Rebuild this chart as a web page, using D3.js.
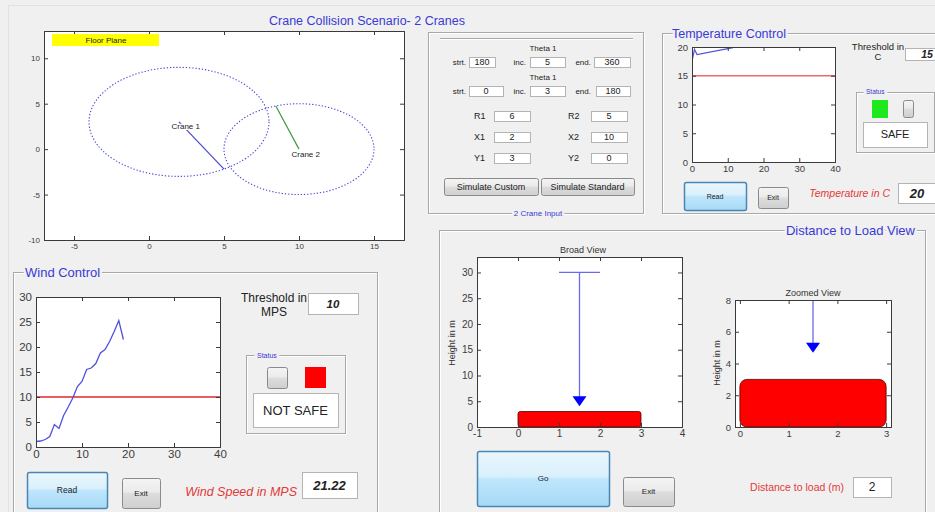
<!DOCTYPE html>
<html>
<head>
<meta charset="utf-8">
<script src="https://cdn.jsdelivr.net/npm/d3@7"></script>
<style>
  body { margin: 0; background: #f0f0f0; }
  svg { display: block; font-family: "Liberation Sans", Arial, sans-serif; }
</style>
</head>
<body>
<div id="chart"></div>
<script>
// ---- floor plane ----
var floorXDomain = [-7, 17], floorYDomain = [-10, 13];
var floorXTicks = [-5, 0, 5, 10, 15], floorYTicks = [-10, -5, 0, 5, 10];
var craneNames = ["Crane 1", "Crane 2"];
var craneX = [2, 10], craneY = [3, 0], craneR = [6, 5];
var craneArmDeg = [300, 108];
var craneArmColor = ["#4848d0", "#3f9a3f"];

// ---- 2 crane input values ----
var thetaRowA = ["180", "5", "360"];
var thetaRowB = ["0", "3", "180"];
var craneInputLeft = [["R1", "6"], ["X1", "2"], ["Y1", "3"]];
var craneInputRight = [["R2", "5"], ["X2", "10"], ["Y2", "0"]];

// ---- wind ----
var windTime = [0, 1, 2, 3, 4, 5, 6, 7, 8, 9, 10, 11, 12, 13, 14, 15, 16, 17, 18, 19];
var windSpeed = [1.1, 1.2, 1.5, 2.1, 4.5, 3.7, 6.3, 8.0, 9.8, 12.1, 13.1, 15.5, 15.8, 16.7, 18.8, 19.5, 21.1, 23.1, 25.3, 21.5];
var windThreshold = 10, windReading = "21.22";
var windXTicks = [0, 10, 20, 30, 40], windYTicks = [0, 5, 10, 15, 20, 25, 30];

// ---- temperature ----
var tempTime = [0.1, 0.7, 1.4, 11.5];
var tempValue = [17.8, 19.6, 18.7, 19.9];
var tempThreshold = 15, tempReading = "20";
var tempXTicks = [0, 10, 20, 30, 40], tempYTicks = [0, 5, 10, 15, 20];

// ---- distance to load ----
var loadX = [0, 3], loadHeight = 3;
var hookX = 1.5, hookBarX = [1, 2], hookTop = 30, hookHeight = 5;
var distanceReading = "2";
var broadXTicks = [-1, 0, 1, 2, 3, 4], broadYTicks = [0, 5, 10, 15, 20, 25, 30];
var zoomXTicks = [0, 1, 2, 3], zoomYTicks = [0, 2, 4, 6, 8];

var W = 935, H = 512;
var blueText = "#3a3ad6", redText = "#e23a3a";

var svg = d3.select("#chart").append("svg")
    .attr("width", W).attr("height", H);

var defs = svg.append("defs");
function grad(id, stops) {
    var g = defs.append("linearGradient").attr("id", id)
        .attr("x1", 0).attr("y1", 0).attr("x2", 0).attr("y2", 1);
    stops.forEach(function (s) {
        g.append("stop").attr("offset", s[0]).attr("stop-color", s[1]);
    });
}
grad("blueBtn", [[0, "#eaf6fd"], [0.45, "#d9f0fc"], [0.5, "#bee6fd"], [1, "#a7d9f5"]]);
grad("grayBtn", [[0, "#f4f4f4"], [0.45, "#ebebeb"], [0.5, "#dddddd"], [1, "#cfcfcf"]]);

svg.append("rect").attr("width", W).attr("height", H).attr("fill", "#f0f0f0");
svg.append("rect").attr("x", 8.5).attr("y", 5.5).attr("width", 940).attr("height", 520)
    .attr("fill", "none").attr("stroke", "#e2e2e2");

function label(x, y, txt, size, color, anchor, extra) {
    var t = svg.append("text").attr("x", x).attr("y", y)
        .attr("font-size", size).attr("fill", color || "#222")
        .attr("text-anchor", anchor || "start").text(txt);
    if (extra) { for (var k in extra) t.attr(k, extra[k]); }
    return t;
}

function panel(x, y, w, h, title, tx, anchor, size) {
    svg.append("rect").attr("x", x + 1.5).attr("y", y + 1.5).attr("width", w).attr("height", h)
        .attr("fill", "none").attr("stroke", "#ffffff");
    svg.append("rect").attr("x", x + 0.5).attr("y", y + 0.5).attr("width", w).attr("height", h)
        .attr("fill", "none").attr("stroke", "#a8a8a8");
    if (title) {
        label(tx, y + size * 0.36, title, size, blueText, anchor)
            .attr("stroke", "#f0f0f0").attr("stroke-width", 5)
            .attr("paint-order", "stroke");
    }
}

function editBox(x, y, w, h, txt, size, style) {
    svg.append("rect").attr("x", x + 0.5).attr("y", y + 0.5).attr("width", w).attr("height", h)
        .attr("fill", "#fff").attr("stroke", "#b4b4b4");
    var t = label(x + w / 2, y + h / 2 + size * 0.36, txt, size, "#222", "middle");
    if (style === "bi") t.attr("font-weight", "bold").attr("font-style", "italic");
    return t;
}

function button(x, y, w, h, txt, kind, size) {
    svg.append("rect").attr("x", x + 0.5).attr("y", y + 0.5).attr("width", w).attr("height", h)
        .attr("rx", 2)
        .attr("fill", kind === "blue" ? "url(#blueBtn)" : "url(#grayBtn)")
        .attr("stroke", kind === "blue" ? "#4a86b4" : "#8a8a8a")
        .attr("stroke-width", kind === "blue" ? 1.5 : 1);
    if (txt) label(x + w / 2, y + h / 2 + size * 0.36, txt, size, "#222", "middle");
}

// matlab style labels: plain hyphen minus, no trailing zeros
function plain(d) { return String(d); }

function makeAxes(x0, y0, x1, y1, xDom, yDom, xTicks, yTicks, fs, id) {
    var x = d3.scaleLinear().domain(xDom).range([x0, x1]);
    var y = d3.scaleLinear().domain(yDom).range([y1, y0]);
    var g = svg.append("g");
    g.append("rect").attr("x", x0).attr("y", y0).attr("width", x1 - x0).attr("height", y1 - y0)
        .attr("fill", "#fff");
    defs.append("clipPath").attr("id", id).append("rect")
        .attr("x", x0).attr("y", y0).attr("width", x1 - x0).attr("height", y1 - y0);
    var plot = g.append("g").attr("clip-path", "url(#" + id + ")");
    var ax = g.append("g");
    ax.append("g").attr("transform", "translate(0," + y1 + ")")
        .call(d3.axisBottom(x).tickValues(xTicks).tickSize(-4).tickPadding(3).tickFormat(plain));
    ax.append("g").attr("transform", "translate(0," + y0 + ")")
        .call(d3.axisTop(x).tickValues(xTicks).tickSize(-4).tickFormat(""));
    ax.append("g").attr("transform", "translate(" + x0 + ",0)")
        .call(d3.axisLeft(y).tickValues(yTicks).tickSize(-4).tickPadding(4).tickFormat(plain));
    ax.append("g").attr("transform", "translate(" + x1 + ",0)")
        .call(d3.axisRight(y).tickValues(yTicks).tickSize(-4).tickFormat(""));
    ax.selectAll(".domain").attr("stroke", "#3a3a3a");
    ax.selectAll(".tick line").attr("stroke", "#3a3a3a");
    ax.selectAll("g").attr("font-family", null).attr("font-size", null);
    ax.selectAll(".tick text").attr("font-size", fs).attr("fill", "#3c3c3c");
    return { x: x, y: y, plot: plot };
}

// ---------- Floor plane ----------
label(367, 25, "Crane Collision Scenario- 2 Cranes", 12.5, blueText, "middle");
var fp = makeAxes(44, 31, 404, 240, floorXDomain, floorYDomain, floorXTicks, floorYTicks, 8, "clipFloor");
craneX.forEach(function (cx, i) {
    fp.plot.append("ellipse")
        .attr("cx", fp.x(cx)).attr("cy", fp.y(craneY[i]))
        .attr("rx", fp.x(craneR[i]) - fp.x(0)).attr("ry", fp.y(0) - fp.y(craneR[i]))
        .attr("fill", "none").attr("stroke", "#4646d6").attr("stroke-width", 1.1)
        .attr("stroke-dasharray", "1.3,1.9");
    var a = craneArmDeg[i] * Math.PI / 180;
    fp.plot.append("line")
        .attr("x1", fp.x(cx)).attr("y1", fp.y(craneY[i]))
        .attr("x2", fp.x(cx + craneR[i] * Math.cos(a)))
        .attr("y2", fp.y(craneY[i] + craneR[i] * Math.sin(a)))
        .attr("stroke", craneArmColor[i]).attr("stroke-width", 1.2);
    fp.plot.append("text")
        .attr("x", fp.x(cx - 0.5)).attr("y", fp.y(craneY[i] - 0.5) + 3)
        .attr("font-size", 8).attr("fill", "#222")
        .attr("stroke", "#fff").attr("stroke-width", 2).attr("paint-order", "stroke")
        .text(craneNames[i]);
});
svg.append("rect").attr("x", 52).attr("y", 34).attr("width", 107).attr("height", 12).attr("fill", "#ffff00");
label(106, 43, "Floor Plane", 8, "#222", "middle");

// ---------- 2 crane input ----------
panel(428, 32, 215, 181, null);
svg.append("line").attr("x1", 440).attr("x2", 633).attr("y1", 38.5).attr("y2", 38.5).attr("stroke", "#a8a8a8");
svg.append("line").attr("x1", 440).attr("x2", 633).attr("y1", 39.5).attr("y2", 39.5).attr("stroke", "#fff");
label(538, 216, "2 Crane Input", 8, blueText, "middle")
    .attr("stroke", "#f0f0f0").attr("stroke-width", 4).attr("paint-order", "stroke");
label(543, 51, "Theta 1", 8, "#222", "middle");
label(543, 80, "Theta 1", 8, "#222", "middle");
[[thetaRowA, 57, [[469, 26], [530, 35], [594, 36]]], [thetaRowB, 86, [[469, 34], [530, 35], [596, 34]]]]
    .forEach(function (row) {
        var names = ["strt.", "inc.", "end."], lx = [466, 526, 591];
        row[0].forEach(function (v, j) {
            label(lx[j], row[1] + 8, names[j], 8, "#222", "end");
            editBox(row[2][j][0], row[1], row[2][j][1], 10, v, 9);
        });
    });
craneInputLeft.forEach(function (d, i) {
    var yy = 111 + i * 21;
    label(474, yy + 8, d[0], 9, "#222");
    editBox(494, yy, 36, 10, d[1], 9);
});
craneInputRight.forEach(function (d, i) {
    var yy = 111 + i * 21;
    label(568, yy + 8, d[0], 9, "#222");
    editBox(591, yy, 36, 10, d[1], 9);
});
button(444, 178, 94, 17, "Simulate Custom", "gray", 9);
button(541, 178, 93, 17, "Simulate Standard", "gray", 9);

// ---------- Temperature control ----------
panel(662, 33, 300, 180, "Temperature Control", 672, "start", 12.5);
var tp = makeAxes(692, 47, 835, 162, [0, 40], [0, 20], tempXTicks, tempYTicks, 9.5, "clipTemp");
tp.plot.append("line").attr("x1", tp.x(0)).attr("x2", tp.x(40))
    .attr("y1", tp.y(tempThreshold)).attr("y2", tp.y(tempThreshold))
    .attr("stroke", "#ee6a6a").attr("stroke-width", 1.3);
tp.plot.append("path").datum(tempTime.map(function (t, i) { return [t, tempValue[i]]; }))
    .attr("d", d3.line().x(function (d) { return tp.x(d[0]); }).y(function (d) { return tp.y(d[1]); }))
    .attr("fill", "none").attr("stroke", "#5252dc").attr("stroke-width", 1.2);
label(878, 50, "Threshold in", 9.5, "#222", "middle");
label(878, 60, "C", 9.5, "#222", "middle");
editBox(905, 48, 40, 12, "15", 10.5, "bi").attr("x", 927);
panel(856, 92, 78, 60, "Status", 866, "start", 6.5);
svg.append("rect").attr("x", 872).attr("y", 100).attr("width", 16).attr("height", 18).attr("fill", "#1fe81f");
button(903, 100, 10, 17, null, "gray");
editBox(863, 122, 64, 25, "SAFE", 11);
button(684, 182, 62, 28, "Read", "blue", 7);
button(758, 187, 30, 21, "Exit", "gray", 7);
label(890, 197, "Temperature in C", 10.5, redText, "end", { "font-style": "italic" });
editBox(898, 183, 45, 20, tempReading, 13, "bi").attr("x", 917);

// ---------- Wind control ----------
panel(13, 272, 364, 260, "Wind Control", 25, "start", 13);
var wp = makeAxes(36, 297, 220, 447, [0, 40], [0, 30], windXTicks, windYTicks, 11.5, "clipWind");
wp.plot.append("line").attr("x1", wp.x(0)).attr("x2", wp.x(40))
    .attr("y1", wp.y(windThreshold)).attr("y2", wp.y(windThreshold))
    .attr("stroke", "#e02828").attr("stroke-width", 1.5);
wp.plot.append("path").datum(windTime.map(function (t, i) { return [t, windSpeed[i]]; }))
    .attr("d", d3.line().x(function (d) { return wp.x(d[0]); }).y(function (d) { return wp.y(d[1]); }))
    .attr("fill", "none").attr("stroke", "#5050dc").attr("stroke-width", 1.3);
label(274, 302, "Threshold in", 12, "#222", "middle");
label(274, 316, "MPS", 12, "#222", "middle");
editBox(308, 293, 50, 21, "10", 11.5, "bi");
panel(246, 355, 99, 78, "Status", 257, "start", 7);
button(267, 367, 20, 21, null, "gray");
svg.append("rect").attr("x", 305).attr("y", 367).attr("width", 21).attr("height", 21).attr("fill", "#ff0000");
editBox(253, 393, 85, 34, "NOT SAFE", 13);
button(27, 472, 80, 36, "Read", "blue", 8.5);
button(122, 478, 38, 30, "Exit", "gray", 8);
label(297, 496, "Wind Speed in MPS", 12.5, redText, "end", { "font-style": "italic" });
editBox(302, 472, 55, 26, windReading, 13, "bi");

// ---------- Distance to load ----------
panel(439, 230, 486, 300, "Distance to Load View", 915, "end", 13);

function drawLoadView(v, markerBar) {
    var px = v.x(loadX[0]), pw = v.x(loadX[1]) - v.x(loadX[0]);
    var py = v.y(loadHeight), ph = v.y(0) - v.y(loadHeight);
    var r = Math.min(pw, ph) * 0.15;
    v.plot.append("rect").attr("x", px).attr("y", py).attr("width", pw).attr("height", ph)
        .attr("rx", r).attr("ry", r)
        .attr("fill", "#ff0000").attr("stroke", "#4a0000").attr("stroke-width", 0.8);
    if (markerBar) {
        v.plot.append("line").attr("x1", v.x(hookBarX[0])).attr("x2", v.x(hookBarX[1]))
            .attr("y1", v.y(hookTop)).attr("y2", v.y(hookTop))
            .attr("stroke", "#6a6aee").attr("stroke-width", 1.3);
    }
    v.plot.append("line").attr("x1", v.x(hookX)).attr("x2", v.x(hookX))
        .attr("y1", v.y(hookTop)).attr("y2", v.y(hookHeight))
        .attr("stroke", "#6a6aee").attr("stroke-width", 1.3);
    var hx = v.x(hookX), hy = v.y(hookHeight);
    v.plot.append("path")
        .attr("d", "M" + (hx - 7) + "," + (hy - 5) + "L" + (hx + 7) + "," + (hy - 5) + "L" + hx + "," + (hy + 5) + "Z")
        .attr("fill", "#0000ff");
}

var bv = makeAxes(477, 257, 682, 427, [-1, 4], [0, 33], broadXTicks, broadYTicks, 10, "clipBroad");
drawLoadView(bv, true);
label(583, 253, "Broad View", 9, "#333", "middle");
label(0, 0, "Height in m", 9, "#333", "middle", { transform: "translate(455,343) rotate(-90)" });
button(477, 451, 132, 55, "Go", "blue", 8);
button(623, 477, 51, 29, "Exit", "gray", 8);

var zv = makeAxes(735, 300, 891, 427, [-0.1, 3.1], [0, 8], zoomXTicks, zoomYTicks, 9.5, "clipZoom");
drawLoadView(zv, false);
label(813, 296, "Zoomed View", 9, "#333", "middle");
label(0, 0, "Height in m", 9, "#333", "middle", { transform: "translate(720,363) rotate(-90)" });
label(844, 491, "Distance to load (m)", 10.5, redText, "end");
editBox(853, 477, 38, 20, distanceReading, 12);
</script>
</body>
</html>
